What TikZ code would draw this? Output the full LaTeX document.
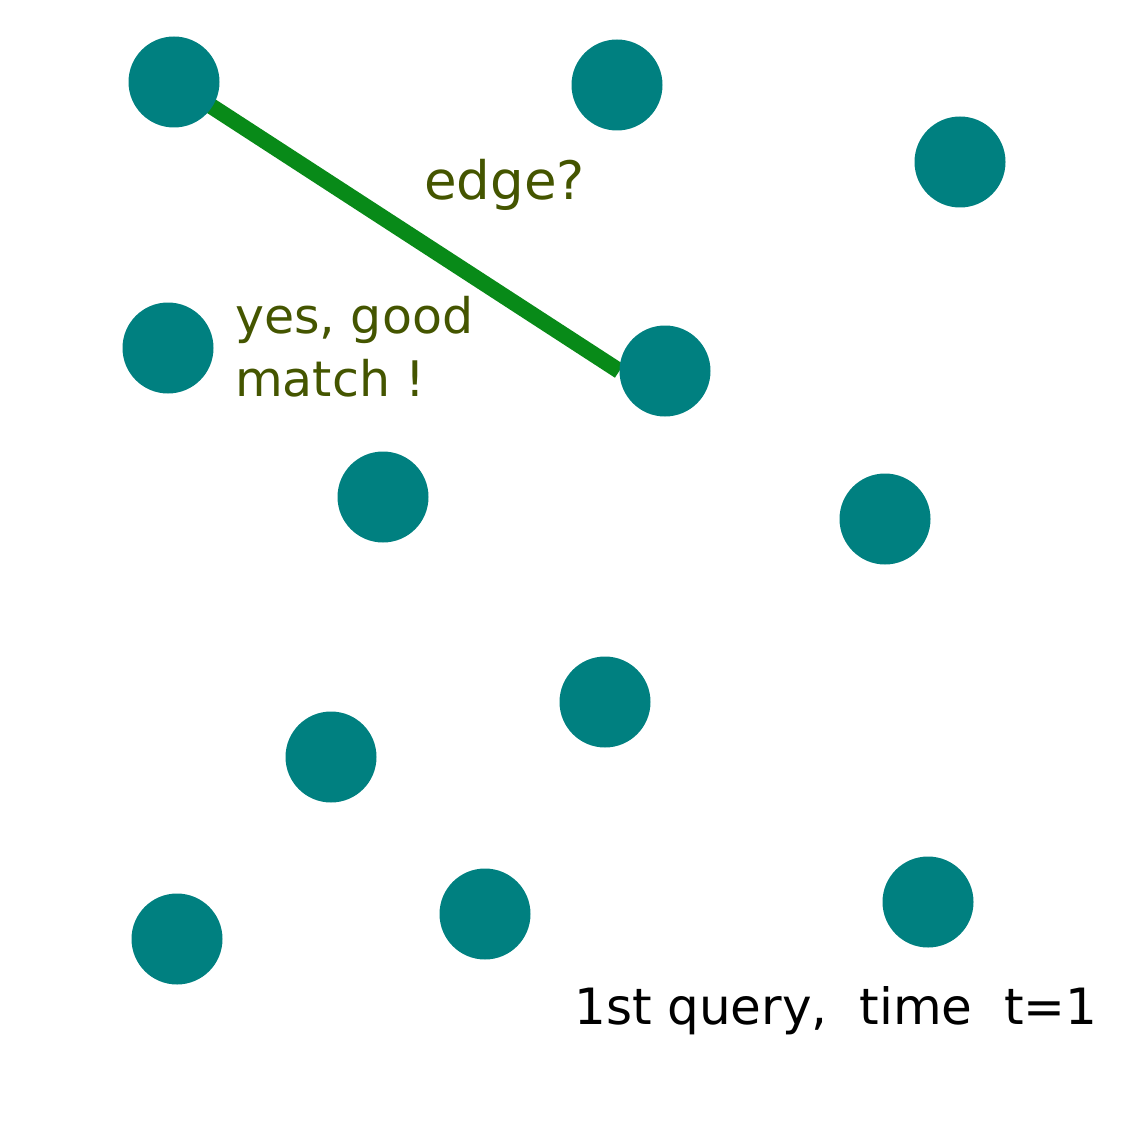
\documentclass[tikz,border=0pt]{standalone}
\usepackage{fontspec}
\setmainfont{DejaVu Sans}
\usetikzlibrary{backgrounds}
\definecolor{teal}{HTML}{008080}
\definecolor{edgegreen}{HTML}{088A18}
\definecolor{olive}{HTML}{445500}
\begin{document}
\begin{tikzpicture}[x=1pt,y=-1pt,
  vtx/.style={circle,fill=teal,minimum size=91pt,inner sep=0pt},
  lbl/.style={inner sep=0pt,anchor=base west,font=\fontsize{49}{63}\selectfont},
  edgeline/.style={draw=edgegreen,line width=16pt}]
\useasboundingbox (0,0) rectangle (1123,1123);
\node[vtx] (c1) at (174,82) {};
\node[vtx] (c2) at (617,85) {};
\node[vtx] (c3) at (960,162) {};
\node[vtx] (c4) at (168,348) {};
\node[vtx] (c5) at (665,371) {};
\node[vtx] (c6) at (383,497) {};
\node[vtx] (c7) at (885,519) {};
\node[vtx] (c8) at (605,702) {};
\node[vtx] (c9) at (331,757) {};
\node[vtx] (c10) at (177,939) {};
\node[vtx] (c11) at (485,914) {};
\node[vtx] (c12) at (928,902) {};
\begin{scope}[on background layer]
\draw[edgeline] (c1.center) -- (c5.west);
\end{scope}
\node[lbl,text=olive,font=\fontsize{53}{63}\selectfont] (tedge) at (424,200) {edge?};
\node[lbl,text=olive] (tyes) at (235,333) {yes, good};
\node[lbl,text=olive] (tmatch) at (235,396) {match !};
\node[lbl,text=black,font=\fontsize{50}{63}\selectfont] (tquery) at (574,1024) {1st query,\ \ time\ \ t=1};
\end{tikzpicture}
\end{document}
